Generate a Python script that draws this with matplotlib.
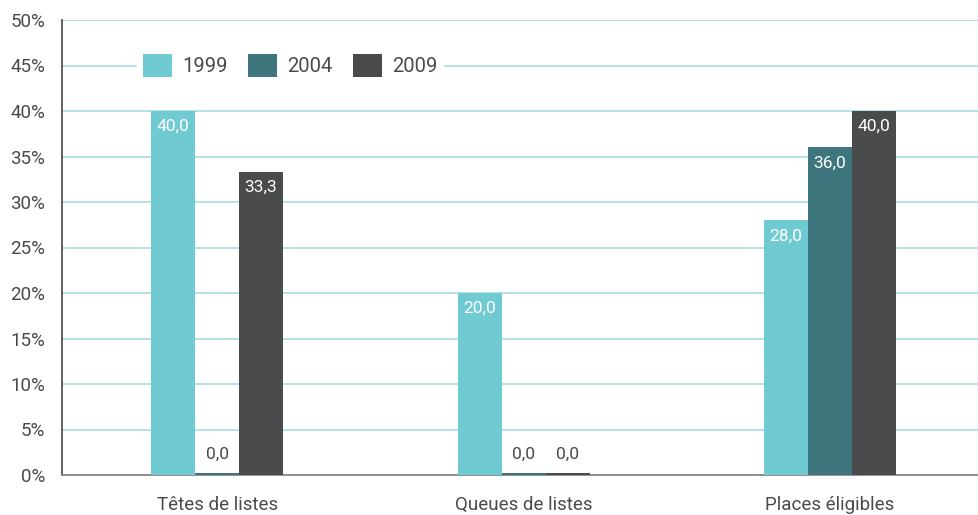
import matplotlib
matplotlib.use("Agg")
import matplotlib.pyplot as plt
import numpy as np

plt.rcParams['font.family'] = ['Roboto', 'DejaVu Sans']

categories = ["Têtes de listes", "Queues de listes", "Places éligibles"]
series_names = ["1999", "2004", "2009"]
v1999 = [40.0, 20.0, 28.0]
v2004 = [0.0, 0.0, 36.0]
v2009 = [33.3, 0.0, 40.0]
yticks = [0, 5, 10, 15, 20, 25, 30, 35, 40, 45, 50]

colors = ["#6fcbd1", "#3d777d", "#4a4b4d"]
grid_c = "#a6dce2"
text_c = "#4a4a4a"

fig = plt.figure(figsize=(9.79, 5.15), dpi=100)
ax = fig.add_axes([62/979, 1-475/515, 1-62/979, (475-20)/515])

x = np.arange(len(categories))
w = 0.1436
for i, (vals, name) in enumerate(zip([v1999, v2004, v2009], series_names)):
    pos = x + (i - 1) * w
    ax.bar(pos, vals, width=w, color=colors[i], label=name, zorder=3, linewidth=0)
    for p, v in zip(pos, vals):
        if v == 0:
            ax.bar(p, 0.25, width=w, color=colors[i], zorder=3)
            ax.text(p, 1.5, f"{v:.1f}".replace(".", ","), ha="center", va="bottom",
                    color=text_c, fontsize=12.5)
        else:
            ax.text(p, v - 0.9, f"{v:.1f}".replace(".", ","), ha="center", va="top",
                    color="white", fontsize=12.5, zorder=4)

ax.set_ylim(0, 50)
ax.set_xlim(-0.506, 2.486)
ax.set_yticks(yticks)
ax.set_yticklabels([f"{t}%" for t in yticks])
ax.set_xticks(x)
ax.set_xticklabels(categories)
ax.yaxis.grid(True, color=grid_c, linewidth=1.2, zorder=0)
ax.set_axisbelow(True)
for s in ["top", "right"]:
    ax.spines[s].set_visible(False)
ax.spines["left"].set_color("#555555")
ax.spines["left"].set_linewidth(1.3)
ax.spines["bottom"].set_color("#888888")
ax.spines["bottom"].set_linewidth(1.3)
ax.tick_params(axis="both", length=0, labelsize=13.5, colors=text_c)
ax.tick_params(axis="y", pad=12)
ax.tick_params(axis="x", pad=15)

leg = ax.legend(loc="center left", bbox_to_anchor=(75/917, 0.9), ncol=3, frameon=True,
                fontsize=14.5, handlelength=1.45, handleheight=1.45, handletextpad=0.5,
                columnspacing=1.0, borderpad=0.3, borderaxespad=0)
leg.get_frame().set_facecolor("white")
leg.get_frame().set_edgecolor("white")
leg.get_frame().set_alpha(1)
for t in leg.get_texts():
    t.set_color(text_c)

fig.savefig("out.png", dpi=100, facecolor="white")
